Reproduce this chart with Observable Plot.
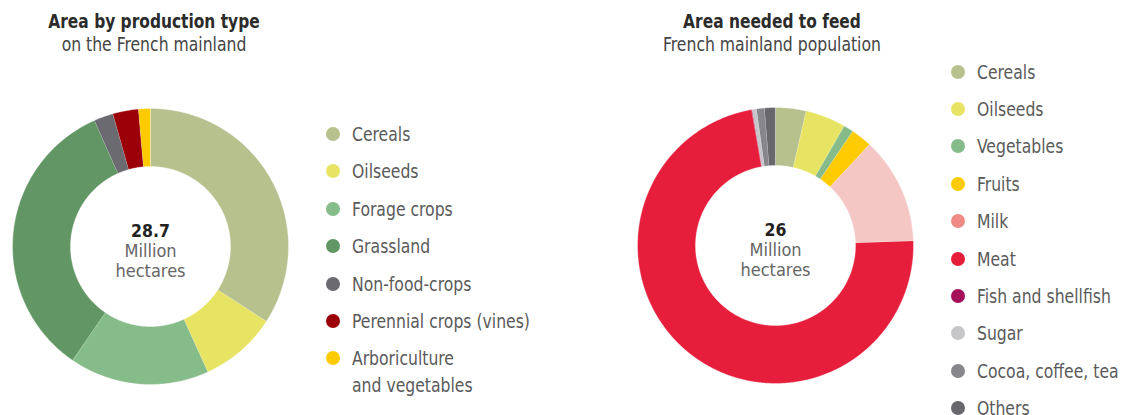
<!DOCTYPE html>
<html><head><meta charset="utf-8">
<script src="https://cdn.jsdelivr.net/npm/d3@7"></script>
<script src="https://cdn.jsdelivr.net/npm/@observablehq/plot@0.6"></script>
<style>
body{margin:0;background:#fff;font-family:"Liberation Sans Narrow","DejaVu Sans Condensed","Roboto",sans-serif;}
#page{position:relative;width:1122px;height:415px;overflow:hidden;background:#fff;}
.title{position:absolute;top:11px;width:400px;text-align:center;}
.title b{display:block;font-size:19.5px;line-height:22px;color:#2b2b2b;transform:scaleX(0.88);transform-origin:50% 50%;}
.title span{display:block;font-size:19px;line-height:22px;color:#444;transform:scaleX(0.915);transform-origin:50% 50%;}
.chart{position:absolute;}
.dot{position:absolute;width:14px;height:14px;border-radius:50%;}
.lab{position:absolute;white-space:pre;font-size:19px;color:#5a5a5a;transform:scaleX(0.915);transform-origin:0 50%;}
</style></head>
<body><div id="page"></div>
<script>
// ---- data ----
const prodTitle = "Area by production type";
const prodSubtitle = "on the French mainland";
const prodCategories = ["Cereals","Oilseeds","Forage crops","Grassland","Non-food-crops","Perennial crops (vines)","Arboriculture\nand vegetables"];
const prodValues = [9.8, 2.6, 4.7, 9.7, 0.65, 0.86, 0.4]; // million ha
const prodColors = ["#b7c18d","#e8e463","#86bb8a","#629765","#6b6a70","#9b0008","#fecb00"];
const prodTotal = "28.7";

const feedTitle = "Area needed to feed";
const feedSubtitle = "French mainland population";
const feedCategories = ["Cereals","Oilseeds","Vegetables","Fruits","Milk","Meat","Fish and shellfish","Sugar","Cocoa, coffee, tea","Others"];
const feedValues = [0.93, 1.23, 0.30, 0.64, 3.26, 18.9, 0.02, 0.13, 0.24, 0.33]; // million ha
const feedSliceColors = ["#b7c18d","#e8e463","#86bb8a","#fecb00","#f5c7c4","#e61e3c","#a50f5a","#c6c6c8","#86868b","#68676c"];
const feedLegendColors = ["#b7c18d","#e8e463","#86bb8a","#fecb00","#ef8a86","#e61e3c","#a50f5a","#c6c6c8","#86868b","#68676c"];
const feedTotal = "26";

const unitLabel = "Million\nhectares";

// ---- helpers ----
const FONT = '"Liberation Sans Narrow","DejaVu Sans Condensed",Roboto,sans-serif';
const page = document.getElementById("page");

function ringRows(cats, vals, rOut, rIn) {
  const arcs = d3.pie().sort(null).value(d => d)(vals);
  const rows = [];
  arcs.forEach((p, i) => {
    const n = Math.max(2, Math.ceil((p.endAngle - p.startAngle) / 0.01));
    for (let k = 0; k <= n; k++) {
      const a = p.startAngle + (p.endAngle - p.startAngle) * k / n;
      rows.push({key: cats[i], x: rOut * Math.sin(a), y: rOut * Math.cos(a)});
    }
    for (let k = n; k >= 0; k--) {
      const a = p.startAngle + (p.endAngle - p.startAngle) * k / n;
      rows.push({key: cats[i], x: rIn * Math.sin(a), y: rIn * Math.cos(a)});
    }
  });
  return rows;
}

function squeeze(svg, label, sx) {
  svg.querySelectorAll(`g[aria-label="${label}"] text`).forEach(t => {
    t.setAttribute("transform", (t.getAttribute("transform") || "") + ` scale(${sx},1)`);
  });
}

function donut(cats, vals, colors, total, left, top) {
  const R = 140;
  const rows = ringRows(cats, vals, 138, 80);
  const svg = Plot.plot({
    width: 2 * R, height: 2 * R, margin: 0,
    x: {domain: [-R, R], axis: null},
    y: {domain: [-R, R], axis: null},
    color: {domain: cats, range: colors},
    style: {fontFamily: FONT, background: "transparent", overflow: "visible"},
    marks: [
      Plot.line(rows, {x: "x", y: "y", z: "key", fill: "key", stroke: "white", strokeWidth: 0.6, strokeOpacity: 0.6}),
      Plot.text([total], {frameAnchor: "middle", text: d => d, dy: -15, fontSize: 17.5, fontWeight: "bold", fill: "#222", ariaLabel: "total"}),
      Plot.text([unitLabel], {frameAnchor: "middle", text: d => d, dy: 14.5, lineHeight: 1.1, fontSize: 18, fill: "#666", ariaLabel: "unit"})
    ]
  });
  squeeze(svg, "total", 0.82);
  squeeze(svg, "unit", 0.88);
  const wrap = document.createElement("div");
  wrap.className = "chart";
  wrap.style.left = left + "px";
  wrap.style.top = top + "px";
  wrap.appendChild(svg);
  page.appendChild(wrap);
}

function title(t, s, cx) {
  const d = document.createElement("div");
  d.className = "title";
  d.style.left = (cx - 200) + "px";
  d.innerHTML = `<b></b><span></span>`;
  d.querySelector("b").textContent = t;
  d.querySelector("span").textContent = s;
  page.appendChild(d);
}

function legend(cats, colors, dotX, textX, y0, step) {
  cats.forEach((c, i) => {
    const cy = y0 + i * step;
    const dot = document.createElement("div");
    dot.className = "dot";
    dot.style.left = (dotX - 7) + "px";
    dot.style.top = (cy - 7) + "px";
    dot.style.background = colors[i];
    page.appendChild(dot);
    const lab = document.createElement("div");
    lab.className = "lab";
    const multi = c.includes("\n");
    const lh = multi ? 27 : 18;
    lab.style.lineHeight = lh + "px";
    lab.style.left = textX + "px";
    lab.style.top = (cy - (multi ? 13.5 : 9)) + "px";
    lab.textContent = c;
    page.appendChild(lab);
  });
}

title(prodTitle, prodSubtitle, 154);
title(feedTitle, feedSubtitle, 771.5);
donut(prodCategories, prodValues, prodColors, prodTotal, 10, 105.5);
donut(feedCategories, feedValues, feedSliceColors, feedTotal, 635, 105);
legend(prodCategories, prodColors, 333, 352, 134, 37.4);
legend(feedCategories, feedLegendColors, 958, 977, 71.5, 37.4);
</script>
</body></html>
